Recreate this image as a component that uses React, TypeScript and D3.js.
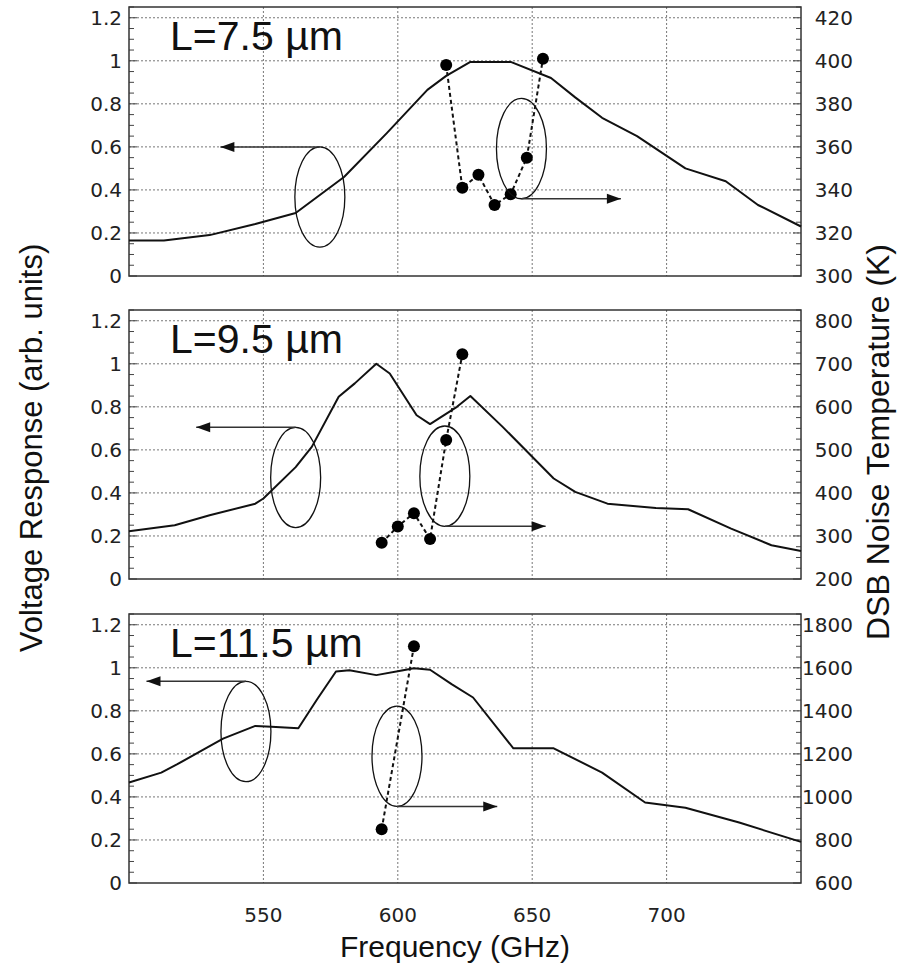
import React from "react";
import * as d3 from "d3";

// ---------- data ----------
const freqTicks = [550, 600, 650, 700];
const leftTicks = [0, 0.2, 0.4, 0.6, 0.8, 1, 1.2];

const p1Labels = "L=7.5 µm";
const p2Labels = "L=9.5 µm";
const p3Labels = "L=11.5 µm";

const resp1F = [500, 513, 530, 547, 562, 580, 596, 611, 618, 627, 642, 657, 666, 676, 689, 707, 722, 734, 750];
const resp1V = [0.165, 0.165, 0.19, 0.242, 0.293, 0.46, 0.665, 0.865, 0.93, 0.995, 0.995, 0.92, 0.83, 0.735, 0.65, 0.5, 0.44, 0.33, 0.23];

const resp2F = [500, 517, 530, 547, 550, 562, 568, 578, 584, 592, 597, 607, 612, 622, 627, 639, 658, 666, 678, 696, 708, 724, 739, 750];
const resp2V = [0.222, 0.25, 0.296, 0.35, 0.374, 0.52, 0.614, 0.847, 0.909, 1.0, 0.955, 0.761, 0.72, 0.8, 0.85, 0.707, 0.467, 0.405, 0.35, 0.33, 0.324, 0.234, 0.157, 0.13];

const resp3F = [500, 512, 518, 528, 535, 547, 553, 563, 570, 577, 582, 592, 601, 606, 612, 620, 628, 643, 658, 676, 692, 707, 727, 750];
const resp3V = [0.467, 0.513, 0.552, 0.622, 0.671, 0.73, 0.726, 0.719, 0.854, 0.983, 0.989, 0.966, 0.986, 0.998, 0.991, 0.924, 0.862, 0.626, 0.626, 0.513, 0.374, 0.35, 0.281, 0.191];

const noise1F = [618, 624, 630, 636, 642, 648, 654];
const noise1T = [398, 341, 347, 333, 338, 355, 401];
const noise2F = [594, 600, 606, 612, 618, 624];
const noise2T = [284, 322, 353, 293, 523, 722];
const noise3F = [594, 606];
const noise3T = [850, 1700];

const right1Ticks = [300, 320, 340, 360, 380, 400, 420];
const right2Ticks = [200, 300, 400, 500, 600, 700, 800];
const right3Ticks = [600, 800, 1000, 1200, 1400, 1600, 1800];

// annotation ellipses: [centre freq, centre value, arrow end freq] ; left arrow from top, right arrow from bottom
const ellLeft1 = [571, 0.367, 534];
const ellRight1 = [646, 0.592, 683];
const ellLeft2 = [562, 0.472, 525];
const ellRight2 = [617.5, 0.478, 655];
const ellLeft3 = [543.5, 0.704, 506.5];
const ellRight3 = [599.7, 0.589, 637];

// ---------- layout ----------
const W = 916;
const H = 966;
const X0 = 129;
const X1 = 801;
const PANEL_H = 269;
const panelTops = [7, 310, 614];
const FONT = "'Liberation Sans', Arial, Helvetica, sans-serif";
const TICKFONT = "'DejaVu Sans', 'Liberation Sans', sans-serif";

const x = d3.scaleLinear().domain([500, 750]).range([X0, X1]);

type PanelProps = {
  top: number;
  label: string;
  rf: number[];
  rv: number[];
  nf: number[];
  nt: number[];
  rTicks: number[];
  tRange: [number, number];
  eL: number[];
  eR: number[];
  showX: boolean;
};

function Panel({ top, label, rf, rv, nf, nt, rTicks, tRange, eL, eR, showX }: PanelProps) {
  const bottom = top + PANEL_H;
  const y = d3.scaleLinear().domain([0, 1.25]).range([bottom, top]);
  const yr = d3.scaleLinear().domain(tRange).range([bottom, top]);
  const line = d3.line<[number, number]>().x((d) => x(d[0])).y((d) => y(d[1]));
  const nline = d3.line<[number, number]>().x((d) => x(d[0])).y((d) => yr(d[1]));
  const respPts: [number, number][] = rf.map((f, i) => [f, rv[i]]);
  const noisePts: [number, number][] = nf.map((f, i) => [f, nt[i]]);
  const minor = d3.range(0, 1.2501, 0.05);
  const gridY = leftTicks.filter((v) => v > 0);
  const rxPx = x(509.3) - x(500);
  const ryPx = y(0) - y(0.233);
  const ells = [
    { e: eL, dir: -1 },
    { e: eR, dir: 1 },
  ];
  return (
    <g>
      {gridY.map((v) => (
        <line key={"gy" + v} x1={X0} x2={X1} y1={y(v)} y2={y(v)} stroke="#777" strokeWidth={1} strokeDasharray="2,2" />
      ))}
      {freqTicks.map((f) => (
        <line key={"gx" + f} x1={x(f)} x2={x(f)} y1={top} y2={bottom} stroke="#777" strokeWidth={1} strokeDasharray="2,2" />
      ))}
      {minor.map((v, i) => (
        <g key={"mt" + i}>
          <line x1={X0} x2={X0 + (i % 4 === 0 ? 8 : 5)} y1={y(v)} y2={y(v)} stroke="#444" strokeWidth={1} />
          <line x1={X1} x2={X1 - (i % 4 === 0 ? 8 : 5)} y1={y(v)} y2={y(v)} stroke="#444" strokeWidth={1} />
        </g>
      ))}
      <rect x={X0} y={top} width={X1 - X0} height={PANEL_H} fill="none" stroke="#333" strokeWidth={1.5} />
      {leftTicks.map((v) => (
        <text key={"lt" + v} x={X0 - 7} y={y(v) + 7} textAnchor="end" fontFamily={TICKFONT} fontSize={20} fill="#222">
          {String(v)}
        </text>
      ))}
      {rTicks.map((t) => (
        <text key={"rt" + t} x={853} y={yr(t) + 7} textAnchor="end" fontFamily={TICKFONT} fontSize={20} fill="#222">
          {String(t)}
        </text>
      ))}
      {showX &&
        freqTicks.map((f) => (
          <text key={"xt" + f} x={x(f)} y={bottom + 39} textAnchor="middle" fontFamily={TICKFONT} fontSize={20} fill="#222">
            {String(f)}
          </text>
        ))}
      <path d={line(respPts) || ""} fill="none" stroke="#111" strokeWidth={2} strokeLinejoin="round" />
      <path d={nline(noisePts) || ""} fill="none" stroke="#111" strokeWidth={2} strokeDasharray="4,3" />
      {noisePts.map((p, i) => (
        <circle key={"np" + i} cx={x(p[0])} cy={yr(p[1])} r={6} fill="#000" />
      ))}
      {ells.map(({ e, dir }, i) => {
        const cx = x(e[0]);
        const cy = y(e[1]);
        const ay = dir < 0 ? cy - ryPx : cy + ryPx;
        const ax = x(e[2]);
        const head = dir < 0 ? `M${ax},${ay} L${ax + 14},${ay - 5} L${ax + 14},${ay + 5} Z` : `M${ax},${ay} L${ax - 14},${ay - 5} L${ax - 14},${ay + 5} Z`;
        return (
          <g key={"el" + i}>
            <ellipse cx={cx} cy={cy} rx={rxPx} ry={ryPx} fill="none" stroke="#111" strokeWidth={1.3} />
            <line x1={cx} x2={ax} y1={ay} y2={ay} stroke="#333" strokeWidth={1.5} />
            <path d={head} fill="#111" />
          </g>
        );
      })}
      <text x={X0 + 41} y={y(1.048)} fontFamily={FONT} fontSize={41} fill="#111">
        {label}
      </text>
    </g>
  );
}

export default function App() {
  return (
    <svg width={W} height={H} style={{ display: "block", position: "absolute", left: 0, top: 0, background: "#fff" }}>
      <rect x={0} y={0} width={W} height={H} fill="#fff" />
      <Panel top={panelTops[0]} label={p1Labels} rf={resp1F} rv={resp1V} nf={noise1F} nt={noise1T} rTicks={right1Ticks} tRange={[300, 425]} eL={ellLeft1} eR={ellRight1} showX={false} />
      <Panel top={panelTops[1]} label={p2Labels} rf={resp2F} rv={resp2V} nf={noise2F} nt={noise2T} rTicks={right2Ticks} tRange={[200, 825]} eL={ellLeft2} eR={ellRight2} showX={false} />
      <Panel top={panelTops[2]} label={p3Labels} rf={resp3F} rv={resp3V} nf={noise3F} nt={noise3T} rTicks={right3Ticks} tRange={[600, 1850]} eL={ellLeft3} eR={ellRight3} showX={true} />
      <text x={455} y={957} textAnchor="middle" fontFamily={FONT} fontSize={30} fill="#111">
        Frequency (GHz)
      </text>
      <text transform="translate(42,448) rotate(-90)" textAnchor="middle" fontFamily={FONT} fontSize={31} fill="#111">
        Voltage Response (arb. units)
      </text>
      <text transform="translate(889,442) rotate(-90)" textAnchor="middle" fontFamily={FONT} fontSize={32} fill="#111">
        DSB Noise Temperature (K)
      </text>
    </svg>
  );
}
